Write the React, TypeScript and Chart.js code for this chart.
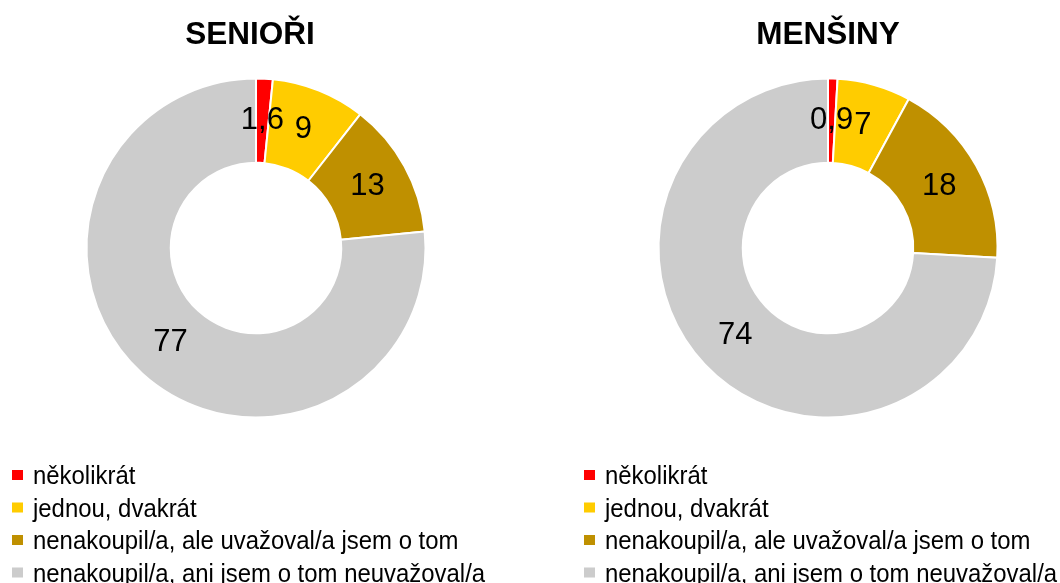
import React, { useEffect, useRef } from "react";
import { Chart, registerables } from "chart.js";

Chart.register(...registerables);

const CATEGORIES = [
  "několikrát",
  "jednou, dvakrát",
  "nenakoupil/a, ale uvažoval/a jsem o tom",
  "nenakoupil/a, ani jsem o tom neuvažoval/a",
];
const SENIORI_VALUES = [1.6, 9, 13, 77];
const MENSINY_VALUES = [0.9, 7, 18, 74];
const TITLES = ["SENIOŘI", "MENŠINY"];
const COLORS = ["#FF0000", "#FFCC00", "#BF9000", "#CCCCCC"];

const W = 488;
const H = 583;
const FONT = '"Liberation Sans", Arial, Helvetica, sans-serif';

const overlayPlugin = {
  id: "overlay",
  afterDatasetsDraw(chart: any) {
    const ctx = chart.ctx;
    const meta = chart.getDatasetMeta(0);
    const data = chart.data.datasets[0].data;
    ctx.save();
    ctx.font = `31px ${FONT}`;
    ctx.fillStyle = "#000000";
    ctx.textAlign = "center";
    ctx.textBaseline = "middle";
    meta.data.forEach((arc: any, i: number) => {
      const p = arc.tooltipPosition(false);
      ctx.fillText(String(data[i]).replace(".", ","), p.x, p.y);
    });
    ctx.restore();
  },
  afterDraw(chart: any, _args: any, opts: any) {
    const ctx = chart.ctx;
    ctx.save();
    // title
    ctx.font = `bold 31.5px ${FONT}`;
    ctx.fillStyle = "#000000";
    ctx.textAlign = "center";
    ctx.textBaseline = "middle";
    ctx.fillText(opts.title, opts.titleX, 35);
    // legend
    const labels = chart.data.labels;
    const colors = chart.data.datasets[0].backgroundColor;
    ctx.textAlign = "left";
    ctx.textBaseline = "alphabetic";
    labels.forEach((lab: string, i: number) => {
      const base = 484 + i * 32.5;
      ctx.fillStyle = colors[i];
      ctx.fillRect(12, base - 14, 11, 10);
      ctx.save();
      ctx.translate(33, base);
      ctx.scale(0.92, 1);
      ctx.font = `26px ${FONT}`;
      ctx.fillStyle = "#000000";
      ctx.fillText(lab, 0, 0);
      ctx.restore();
    });
    ctx.restore();
  },
};

function makeChart(canvas: HTMLCanvasElement, values: number[], title: string, titleX: number) {
  return new Chart(canvas, {
    type: "doughnut",
    data: {
      labels: CATEGORIES,
      datasets: [
        {
          data: values,
          backgroundColor: COLORS,
          borderColor: "#FFFFFF",
          borderWidth: 2,
        },
      ],
    },
    options: {
      responsive: false,
      animation: false,
      radius: 169.5,
      cutout: "50.3%",
      layout: { padding: { left: 80, right: 56, top: 72, bottom: 159 } },
      plugins: {
        legend: { display: false },
        title: { display: false },
        tooltip: { enabled: false },
        overlay: { title, titleX },
      } as any,
    },
    plugins: [overlayPlugin],
  } as any);
}

export default function App() {
  const leftRef = useRef<HTMLCanvasElement>(null);
  const rightRef = useRef<HTMLCanvasElement>(null);

  useEffect(() => {
    const c1 = makeChart(leftRef.current!, SENIORI_VALUES, TITLES[0], 250);
    const c2 = makeChart(rightRef.current!, MENSINY_VALUES, TITLES[1], 256);
    return () => {
      c1.destroy();
      c2.destroy();
    };
  }, []);

  return (
    <div
      style={{
        position: "absolute",
        left: 0,
        top: 0,
        width: 1060,
        height: 583,
        background: "#FFFFFF",
        overflow: "hidden",
      }}
    >
      <canvas
        ref={leftRef}
        width={W}
        height={H}
        style={{ position: "absolute", left: 0, top: 0, width: W, height: H }}
      />
      <canvas
        ref={rightRef}
        width={W}
        height={H}
        style={{ position: "absolute", left: 572, top: 0, width: W, height: H }}
      />
    </div>
  );
}
